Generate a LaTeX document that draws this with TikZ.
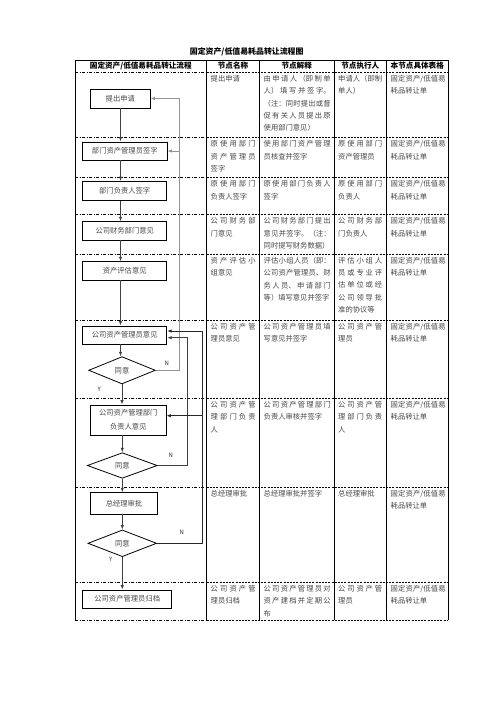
\documentclass[tikz,border=0pt]{standalone}
\usepackage{fontspec}
\setmainfont{Noto Sans CJK SC}
\usetikzlibrary{arrows.meta,shapes.geometric,calc}
\XeTeXlinebreaklocale "zh"
\XeTeXlinebreakskip=0pt plus 3pt
\tikzset{
  tbl/.style={line width=0.9pt, draw=black},
  sepa/.style={line width=0.8pt, draw=black, dash pattern=on 3pt off 1.5pt on 1pt off 1.5pt},
  sepb/.style={line width=0.8pt, draw=black, dash pattern=on 2pt off 1.2pt},
  txt/.style={anchor=north west, inner sep=0pt, font=\fontsize{7.3}{12.4}\selectfont, text=black!72, align=justify},
  hdr/.style={inner sep=0pt, font=\fontsize{7.6}{9}\selectfont\bfseries, text=black},
  box/.style={draw=black, line width=0.8pt, fill=white, inner sep=0pt, font=\fontsize{7.3}{14}\selectfont, text=black!72, align=center},
  dia/.style={shape=diamond, draw=black, line width=0.8pt, fill=white, inner sep=0pt, font=\fontsize{7.3}{9}\selectfont, text=black!72},
  arr/.style={draw=black!75, line width=0.8pt, -{Latex[length=4.5pt,width=3.4pt]}},
  fbA/.style={draw=black!42, line width=0.9pt},
  fbB/.style={draw=black!75, line width=0.9pt},
  fbC/.style={draw=black!85, line width=0.9pt},
  tip/.style={-{Latex[length=4.5pt,width=3.4pt]}},
  lbl/.style={inner sep=0pt, font=\fontsize{6}{7}\selectfont, text=black!80}
}
\begin{document}
\begin{tikzpicture}[x=1pt,y=-1pt]
\useasboundingbox (0,0) rectangle (496,702);
\fill[white] (0,0) rectangle (496,702);

% title
\node[hdr, font=\fontsize{7.9}{9}\selectfont\bfseries] (title) at (246.7,52) {固定资产/低值易耗品转让流程图};

% table frame
\draw[tbl] (75,60) -- (448,60);
\foreach \x in {75,206.7,259.3,334,386.7,448} \draw[tbl] (\x,60) -- (\x,620);
\foreach \y in {72,137.5,177.5,214.5,254,320,398.3,487.3,582.3,620} {
  \draw[sepa] (75,\y) -- (206.7,\y);
  \draw[sepb] (206.7,\y) -- (448,\y);
}

% header
\node[hdr] (h1) at (140.8,66) {固定资产/低值易耗品转让流程};
\node[hdr] (h2) at (233,66) {节点名称};
\node[hdr] (h3) at (296.7,66) {节点解释};
\node[hdr] (h4) at (360.3,66) {节点执行人};
\node[hdr] (h5) at (417.3,66) {本节点具体表格};

% column 2
\node[txt, text width=45pt] (r1c2) at (210.5,74.8) {提出申请};
\node[txt, text width=45pt] (r2c2) at (210.5,140.3) {原使用部门\linebreak 资产管理员\linebreak 签字};
\node[txt, text width=45pt] (r3c2) at (210.5,180.3) {原使用部门\linebreak 负责人签字};
\node[txt, text width=45pt] (r4c2) at (210.5,217.3) {公司财务部\linebreak 门意见};
\node[txt, text width=45pt] (r5c2) at (210.5,256.8) {资产评估小\linebreak 组意见};
\node[txt, text width=45pt] (r6c2) at (210.5,322.8) {公司资产管\linebreak 理员意见};
\node[txt, text width=45pt] (r7c2) at (210.5,401.1) {公司资产管\linebreak 理部门负责\linebreak 人};
\node[txt, text width=45pt] (r8c2) at (210.5,490.1) {总经理审批};
\node[txt, text width=45pt] (r9c2) at (210.5,585.1) {公司资产管\linebreak 理员归档};

% column 3
\node[txt, text width=67pt] (r1c3) at (263.5,74.8) {由申请人（即制单\linebreak 人）填写并签字。\linebreak （注：同时提出或督\linebreak 促有关人员提出原\linebreak 使用部门意见）};
\node[txt, text width=67pt] (r2c3) at (263.5,140.3) {使用部门资产管理\linebreak 员核查并签字};
\node[txt, text width=67pt] (r3c3) at (263.5,180.3) {原使用部门负责人\linebreak 签字};
\node[txt, text width=67pt] (r4c3) at (263.5,217.3) {公司财务部门提出\linebreak 意见并签字。（注：\linebreak 同时提写财务数据）};
\node[txt, text width=67pt] (r5c3) at (263.5,256.8) {评估小组人员（即：\linebreak 公司资产管理员、财\linebreak 务人员、申请部门\linebreak 等）填写意见并签字};
\node[txt, text width=67pt] (r6c3) at (263.5,322.8) {公司资产管理员填\linebreak 写意见并签字};
\node[txt, text width=67pt] (r7c3) at (263.5,401.1) {公司资产管理部门\linebreak 负责人审核并签字};
\node[txt, text width=67pt] (r8c3) at (263.5,490.1) {总经理审批并签字};
\node[txt, text width=67pt] (r9c3) at (263.5,585.1) {公司资产管理员对\linebreak 资产建档并定期公\linebreak 布};

% column 4
\node[txt, text width=44pt] (r1c4) at (338,74.8) {申请人（即制\linebreak 单人）};
\node[txt, text width=44pt] (r2c4) at (338,140.3) {原使用部门\linebreak 资产管理员};
\node[txt, text width=44pt] (r3c4) at (338,180.3) {原使用部门\linebreak 负责人};
\node[txt, text width=44pt] (r4c4) at (338,217.3) {公司财务部\linebreak 门负责人};
\node[txt, text width=44pt] (r5c4) at (338,256.8) {评估小组人\linebreak 员或专业评\linebreak 估单位或经\linebreak 公司领导批\linebreak 准的协议等};
\node[txt, text width=44pt] (r6c4) at (338,322.8) {公司资产管\linebreak 理员};
\node[txt, text width=44pt] (r7c4) at (338,401.1) {公司资产管\linebreak 理部门负责\linebreak 人};
\node[txt, text width=44pt] (r8c4) at (338,490.1) {总经理审批};
\node[txt, text width=44pt] (r9c4) at (338,585.1) {公司资产管\linebreak 理员};

% column 5
\foreach \y [count=\i] in {74.8,140.3,180.3,217.3,256.8,322.8,401.1,490.1,585.1}
  \node[txt, text width=55pt] (r\i c5) at (390.5,\y) {固定资产/低值易\linebreak 耗品转让单};

% flow boxes
\node[box, minimum width=59.3pt, minimum height=19pt] (B1) at (120.3,98.5) {提出申请};
\node[box, minimum width=84.3pt, minimum height=18pt] (B2) at (124.8,151) {部门资产管理员签字};
\node[box, minimum width=84pt, minimum height=19pt] (B3) at (124.7,191) {部门负责人签字};
\node[box, minimum width=84pt, minimum height=18.3pt] (B4) at (124.7,230.8) {公司财务部门意见};
\node[box, minimum width=84pt, minimum height=18.3pt] (B5) at (124.7,270.8) {资产评估意见};
\node[box, minimum width=84pt, minimum height=18pt] (B6) at (124.7,335) {公司资产管理员意见};
\node[dia, minimum width=66.7pt, minimum height=27.3pt] (D1) at (122,370.3) {同意};
\node[box, minimum width=75.3pt, minimum height=30pt] (B7) at (128.3,420) {公司资产管理部门\\负责人意见};
\node[dia, minimum width=70pt, minimum height=25.6pt] (D2) at (122.3,465.5) {同意};
\node[box, minimum width=66.6pt, minimum height=21.3pt] (B8) at (124,503.3) {总经理审批};
\node[dia, minimum width=68.7pt, minimum height=26.7pt] (D3) at (122.3,543.3) {同意};
\node[box, minimum width=89pt, minimum height=18pt] (B9) at (127.2,599) {公司资产管理员归档};

% main downward arrows
\coordinate (sp) at (120.5,0);
\draw[arr] (B1.south -| sp) -- (B2.north -| sp);
\draw[arr] (B2.south -| sp) -- (B3.north -| sp);
\draw[arr] (B3.south -| sp) -- (B4.north -| sp);
\draw[arr] (B4.south -| sp) -- (B5.north -| sp);
\draw[arr] (B5.south -| sp) -- (B6.north -| sp);
\draw[arr] (B6.south -| sp) -- (D1.north -| sp);
\draw[arr] (D1.south) -- (D1.south |- B7.north);
\draw[arr] (B7.south -| D2) -- (D2.north);
\draw[arr] (D2.south) -- (D2.south |- B8.north);
\draw[arr] (B8.south -| D3) -- (D3.north);
\draw[arr] (D3.south) -- (D3.south |- B9.north);

% feedback lines
\coordinate (f1) at (179.3,0);
\coordinate (f2) at (187.7,0);
\coordinate (f3) at (202.7,0);
\coordinate (a6b) at ($(B6.east)+(0,2.7)$);
\coordinate (a6a) at ($(B6.east)+(0,-4)$);
\coordinate (a7) at ($(B7.east)+(0,-4.3)$);
\draw[fbA, tip] (D1.east) -- (D1.east -| f1) -- (B1.east -| f1) -- (B1.east);
\draw[fbA, tip] (B2.east -| f1) -- (B2.east);
\draw[fbB, tip] (D2.east) -- (D2.east -| f2) -- (a6b -| f2) -- (a6b);
\draw[fbC, tip] (D3.east) -- (D3.east -| f3) -- (a6a -| f3) -- (a6a);
\draw[fbC, tip] (a7 -| f3) -- (a7);

% labels
\node[lbl] (N1) at (166.7,363.3) {N};
\node[lbl] (Y1) at (99.3,389.3) {Y};
\node[lbl] (N2) at (170.7,455.7) {N};
\node[lbl] (N3) at (181.7,532.3) {N};
\node[lbl] (Y3) at (110.7,559.3) {Y};
\end{tikzpicture}
\end{document}
